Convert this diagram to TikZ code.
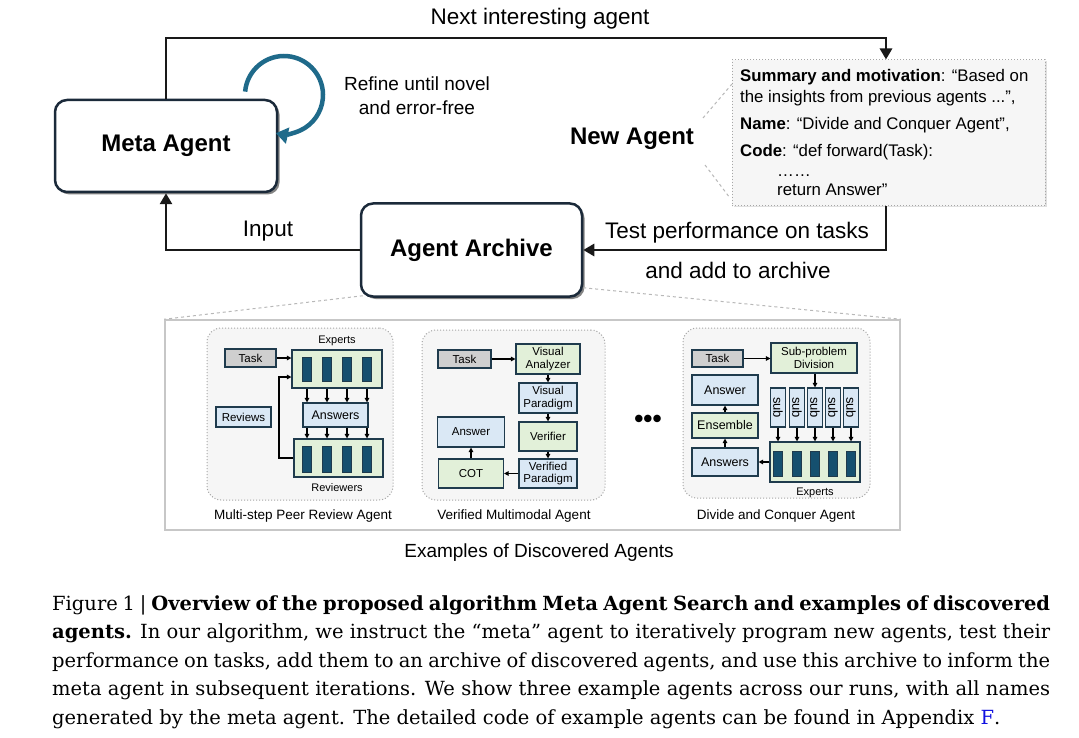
\documentclass[tikz,border=0pt]{standalone}
\usepackage{fontspec}
\setmainfont{Liberation Sans}
\newfontfamily\capfont{DejaVu Serif}
\usetikzlibrary{arrows.meta,shadows,calc}
\definecolor{navy}{HTML}{1B2A3A}
\definecolor{arccol}{HTML}{1F6A8A}
\definecolor{gfill}{HTML}{E2F0D9}
\definecolor{bfill}{HTML}{DAE8F5}
\definecolor{tfill}{HTML}{CFCFCF}
\definecolor{barc}{HTML}{15506F}
\definecolor{bord}{HTML}{1F3B4D}
\definecolor{panelbg}{HTML}{F6F6F6}
\definecolor{linkblue}{HTML}{1010E0}
\tikzset{
  bigbox/.style={draw=navy, line width=2.5pt, rounded corners=12pt, fill=white,
    drop shadow={shadow xshift=2.5pt, shadow yshift=-2.5pt, opacity=0.6, fill=black!80},
    font=\fontsize{24}{28}\selectfont\bfseries},
  mainln/.style={line width=2.8pt, draw=black!90},
  mtip/.style={-{Triangle[length=11pt,width=12pt]}},
  lbl/.style={font=\fontsize{22.5}{27}\selectfont},
  sm/.style={draw=bord, line width=1.1pt, inner sep=0pt, align=center, font=\fontsize{11.5}{12.5}\selectfont},
  gb/.style={sm, fill=gfill},
  bb/.style={sm, fill=bfill},
  tb/.style={sm, fill=tfill},
  barn/.style={draw=bord, fill=barc, line width=0.6pt, minimum width=9pt, minimum height=24pt, inner sep=0pt},
  sarr/.style={line width=1.1pt, draw=black, -{Triangle[length=4.5pt,width=4.5pt]}},
  panel/.style={draw=black!35, dotted, line width=1pt, fill=panelbg, rounded corners=14pt},
  ptitle/.style={font=\fontsize{13.5}{16}\selectfont},
  small/.style={font=\fontsize{11}{12}\selectfont},
  guide/.style={dashed, draw=black!28, line width=1pt}
}
\begin{document}
\begin{tikzpicture}[x=1pt,y=-1pt]
\useasboundingbox[fill=white] (0,0) rectangle (1079,738);

% ---------- top part ----------
\node[bigbox, minimum width=222pt, minimum height=92pt] (meta) at (166,146) {Meta Agent};
\node[bigbox, minimum width=221pt, minimum height=93pt] (archive) at (471.5,250) {Agent Archive};
\node[draw=black!35, dotted, line width=1pt, fill=panelbg, minimum width=313pt, minimum height=146pt,
      drop shadow={shadow xshift=1.5pt, shadow yshift=-1.5pt, opacity=0.25}] (newbox) at (888.5,133) {};
\node[anchor=north west, inner sep=0pt, align=left, font=\fontsize{16.8}{21}\selectfont] (nat) at (740,69)
 {\textbf{Summary and motivation}: “Based on\\
  the insights from previous agents ...”,\\[6pt]
  \textbf{Name}: “Divide and Conquer Agent”,\\[6pt]
  \textbf{Code}: “def forward(Task):\\[-1pt]
  \hspace*{37pt}……\\[-2pt]
  \hspace*{37pt}return Answer”};
\node[font=\fontsize{24}{28}\selectfont\bfseries] (nal) at (632,139) {New Agent};
\coordinate (d1a) at (703,118); \coordinate (d1b) at (732,84);
\coordinate (d2a) at (705,165); \coordinate (d2b) at (730,198);
\draw[guide] (d1a) -- (d1b);
\draw[guide] (d2a) -- (d2b);

\node[lbl] (nxt) at (540,19) {Next interesting agent};
\coordinate (tr) at (886,38);
\draw[mainln, mtip] (meta.north) |- (tr) -- (tr |- newbox.north);
\draw[mainln, mtip] (tr |- newbox.south) |- (archive.east);
\draw[mainln, mtip] (archive.west) -| (meta.south);
\node[lbl] (inp) at (268,231) {Input};
\node[lbl] (tp1) at (737,233) {Test performance on tasks};
\node[lbl] (tp2) at (738,270) {and add to archive};

% refine loop
\draw[line width=4.5pt, arccol, -{Triangle[length=12pt,width=16pt]}] (284,95) ++(185:39) arc[start angle=185, end angle=462, radius=39];
\node[align=center, font=\fontsize{19}{24}\selectfont] (ref) at (417,96) {Refine until novel\\and error-free};

% ---------- examples panel ----------
\node[draw=black!22, line width=1.5pt, fill=white, minimum width=735pt, minimum height=210pt] (outer) at (532.5,425) {};
\draw[guide] (archive.south west) ++(3,-2) -- (outer.north west);
\draw[guide] (archive.south east) ++(0,-10) -- (outer.north east);

% panel 1
\node[panel, minimum width=186pt, minimum height=172pt] (p1) at (300,414) {};
\node[small] (l1e) at (337,341) {Experts};
\node[tb, minimum width=51pt, minimum height=18pt] (task1) at (250.5,358) {Task};
\node[gb, minimum width=90pt, minimum height=38pt] (exp1) at (337,369) {};
\node[bb, minimum width=65pt, minimum height=24pt, font=\fontsize{12.5}{13}\selectfont] (ans1) at (335.5,415) {Answers};
\node[gb, minimum width=89pt, minimum height=38pt] (rev1) at (338.5,458) {};
\node[bb, minimum width=55pt, minimum height=20pt] (revs1) at (243.5,417) {Reviews};
\node[small] (l1r) at (337,488) {Reviewers};
\foreach \i/\x in {1/307,2/327,3/347,4/367} {
  \node[barn] (e1b\i) at (\x,369) {};
  \node[barn, minimum height=26pt] (r1b\i) at (\x,459) {};
  \draw[sarr] (e1b\i |- exp1.south) -- (e1b\i |- ans1.north);
  \draw[sarr] (e1b\i |- ans1.south) -- (e1b\i |- rev1.north);
}
\draw[sarr] (task1.east) -- (task1.east -| exp1.west);
\coordinate (fbL) at (279,377);
\draw[sarr] (rev1.west) -| (fbL) -- (fbL -| exp1.west);
\node[ptitle] (t1) at (303,516) {Multi-step Peer Review Agent};

% panel 2
\node[panel, minimum width=183pt, minimum height=170pt] (p2) at (513.5,415) {};
\node[tb, minimum width=53pt, minimum height=18pt] (task2) at (464.5,359) {Task};
\node[gb, minimum width=64pt, minimum height=30pt] (va) at (548,359) {Visual\\Analyzer};
\node[bb, minimum width=58pt, minimum height=30pt] (vp) at (548,398) {Visual\\Paradigm};
\node[gb, minimum width=58pt, minimum height=29pt] (ver) at (548,436.5) {Verifier};
\node[bb, minimum width=58pt, minimum height=29pt] (vpar) at (548,473.5) {Verified\\Paradigm};
\node[gb, minimum width=65pt, minimum height=29pt] (cot) at (471,473.5) {COT};
\node[bb, minimum width=67pt, minimum height=30pt] (answer2) at (471,432) {Answer};
\draw[sarr] (task2.east) -- (va.west);
\draw[sarr] (va.south) -- (vp.north);
\draw[sarr] (vp.south) -- (ver.north);
\draw[sarr] (ver.south) -- (vpar.north);
\draw[sarr] (vpar.west) -- (cot.east);
\draw[sarr] (cot.north) -- (answer2.south);
\node[ptitle] (t2) at (514,516) {Verified Multimodal Agent};

% dots
\node[font=\fontsize{26}{26}\selectfont\bfseries] (dots) at (648,421) {•••};

% panel 3
\node[panel, minimum width=187pt, minimum height=170pt] (p3) at (776.5,413) {};
\node[tb, minimum width=51pt, minimum height=17pt] (task3) at (717.5,358.5) {Task};
\node[gb, minimum width=86pt, minimum height=30pt] (spd) at (814,358) {Sub-problem\\Division};
\node[gb, minimum width=90pt, minimum height=40pt] (exp3) at (815,462) {};
\node[small] (l3e) at (815,493) {Experts};
\foreach \i/\x in {1/778,2/797,3/815,4/833,5/851} {
  \node[bb, minimum width=15pt, minimum height=39pt, font=\fontsize{13}{13}\selectfont] (s\i) at (\x,407.5) {\rotatebox{-90}{sub}};
  \node[barn, minimum height=25pt] (e3b\i) at (\x,463.5) {};
  \draw[sarr] (s\i.south) -- (s\i |- exp3.north);
}
\node[bb, minimum width=66pt, minimum height=28pt, font=\fontsize{12.5}{13}\selectfont] (ans3) at (725,462) {Answers};
\node[gb, minimum width=66pt, minimum height=25pt, font=\fontsize{12.5}{13}\selectfont] (ens) at (725,425.5) {Ensemble};
\node[bb, minimum width=66pt, minimum height=30pt, font=\fontsize{12.5}{13}\selectfont] (answer3) at (725,390) {Answer};
\draw[sarr] (task3.east) -- (task3.east -| spd.west);
\draw[sarr] (s3 |- spd.south) -- (s3.north);
\draw[sarr] (exp3.west) -- (exp3.west -| ans3.east);
\draw[sarr] (ans3.north) -- (ens.south);
\draw[sarr] (ens.north) -- (answer3.south);
\node[ptitle] (t3) at (776,516) {Divide and Conquer Agent};

\node[font=\fontsize{19}{22}\selectfont] (exl) at (539,553) {Examples of Discovered Agents};

% ---------- caption ----------
\node[anchor=north west, inner sep=0pt, text width=998pt, align=justify,
      font=\capfont\fontsize{19.5}{28.5}\selectfont] (cap) at (52,595)
 {Figure 1 | \textbf{Overview of the proposed algorithm Meta Agent Search and examples of discovered}\linebreak
  \textbf{agents.} In our algorithm, we instruct the “meta” agent to iteratively program new agents, test their\linebreak
  performance on tasks, add them to an archive of discovered agents, and use this archive to inform the\linebreak
  meta agent in subsequent iterations. We show three example agents across our runs, with all names\linebreak
  generated by the meta agent. The detailed code of example agents can be found in Appendix \textcolor{linkblue}{F}.};
\end{tikzpicture}
\end{document}
